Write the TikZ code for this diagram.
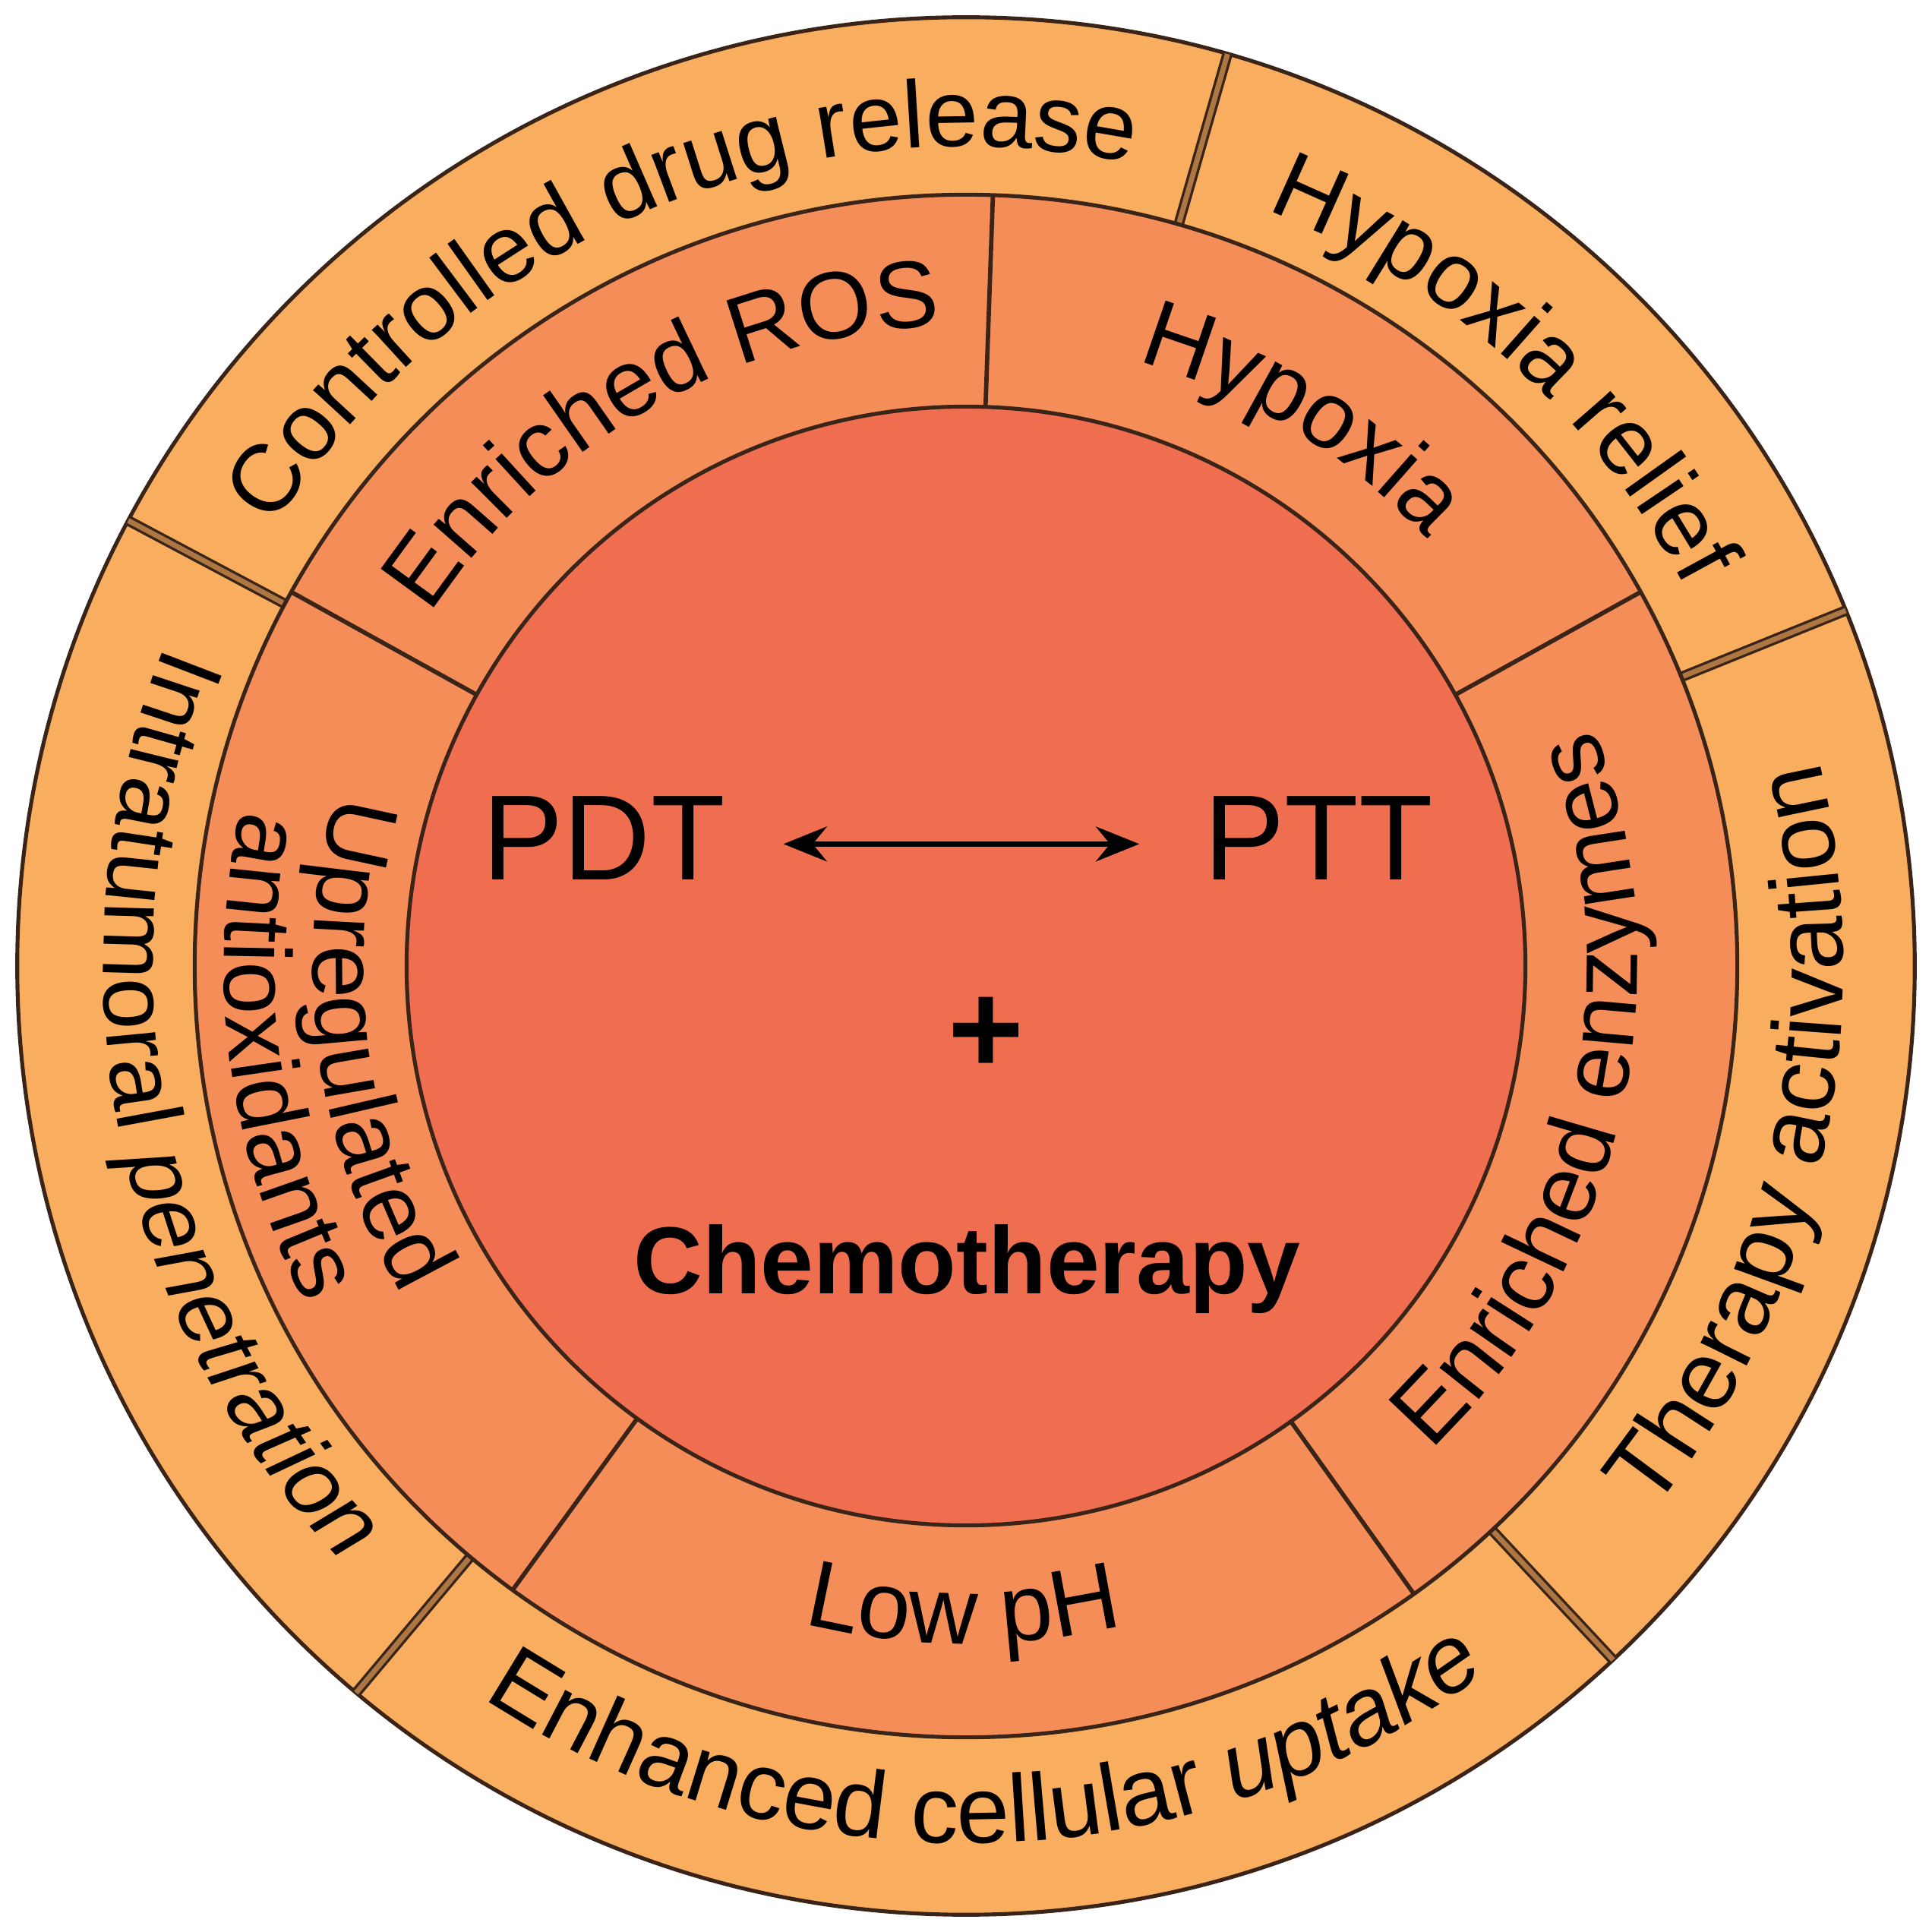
\documentclass[tikz,border=0pt]{standalone}
\usepackage{fontspec}
\setmainfont{Liberation Sans}
\usetikzlibrary{decorations.text,arrows.meta,calc}
\definecolor{outerc}{HTML}{F9AE5F}
\definecolor{midc}{HTML}{F58D58}
\definecolor{innc}{HTML}{F06E50}
\definecolor{linec}{HTML}{3A2418}
\begin{document}
\begin{tikzpicture}[
  ring/.style={draw=linec,line width=0.9pt},
  divd/.style={draw=linec,double=outerc!60!linec,double distance=1.2pt,line width=0.6pt},
  divs/.style={draw=linec,line width=1pt},
  ct/.style={decorate,decoration={text along path,text align=center,text={#1}}}
]
\useasboundingbox (-7.84,-7.84) rectangle (7.84,7.84);
\coordinate (c) at (0,0);
\fill[outerc,ring] (c) circle (7.70);
\foreach \a in {74,22,-47,230,152} \draw[divd] (\a:6.26) -- (\a:7.70);
\fill[midc,ring] (c) circle (6.26);
\foreach \a in {88,29,-54.5,234,151} \draw[divs] (\a:4.54) -- (\a:6.26);
\fill[innc,ring] (c) circle (4.54);
% outer ring texts
\path[ct={|\fontsize{22}{26}\selectfont|Controlled drug release}] (152:6.65) arc (152:74:6.65);
\path[ct={|\fontsize{22}{26}\selectfont|Hypoxia relief}] (74:6.6) arc (74:22:6.6);
\path[ct={|\fontsize{22.5}{26}\selectfont|Therapy activation}] (-47:7.12) arc (-47:22:7.12);
\path[ct={|\fontsize{22}{26}\selectfont|Enhanced cellular |\fontsize{22}{26}\selectfont\itshape|uptake}] (230:7.12) arc (230:313:7.12);
\path[ct={|\fontsize{21.5}{26}\selectfont|Intratumoral |\fontsize{21.5}{26}\selectfont\itshape|penetration}] (152:7.0) arc (152:230:7.0);
% middle ring texts
\path[ct={|\fontsize{22}{26}\selectfont|Enriched ROS}] (151:5.2) arc (151:88:5.2);
\path[ct={|\fontsize{22}{26}\selectfont|Hypoxia}] (88:5.1) arc (88:29:5.1);
\path[ct={|\fontsize{22}{26}\selectfont|Enriched enzymes}] (-54.5:5.45) arc (-54.5:29:5.45);
\path[ct={|\fontsize{22}{26}\selectfont|Low pH}] (234:5.5) arc (234:305.5:5.5);
\path[ct={|\fontsize{22}{26}\selectfont|Upregulated}] (150:5.3) arc (150:225:5.3);
\path[ct={|\fontsize{22}{26}\selectfont|antioxidants}] (150:6.02) arc (150:225:6.02);
% center
\node[font=\fontsize{28}{32}\selectfont] (pdt) at (-2.94,1.04) {PDT};
\node[font=\fontsize{28}{32}\selectfont] (ptt) at (2.86,1.04) {PTT};
\coordinate (a1) at ($(pdt.east)+(0.35,-0.05)$);
\coordinate (a2) at ($(ptt.west)+(-0.4,-0.05)$);
\draw[{Stealth[length=10pt,width=8pt]}-{Stealth[length=10pt,width=8pt]},line width=1.3pt] (a1) -- (a2);
\node[font=\fontsize{30}{34}\selectfont\bfseries] (plus) at (0.16,-0.56) {+};
\node[font=\fontsize{22}{26}\selectfont\bfseries] (chemo) at (0.01,-2.46) {Chemotherapy};
\end{tikzpicture}
\end{document}
